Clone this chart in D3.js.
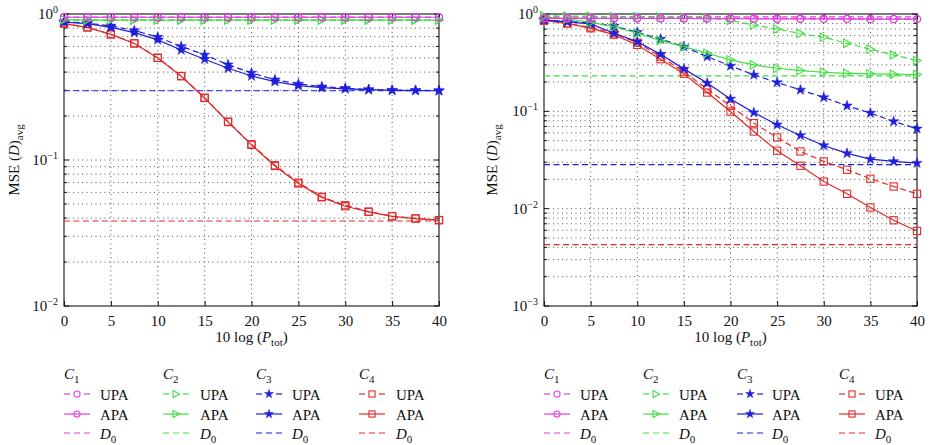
<!DOCTYPE html>
<html><head><meta charset="utf-8">
<script src="https://cdn.jsdelivr.net/npm/d3@7"></script>
<style>
body{margin:0;background:#fff}
svg{display:block}
svg text{font-family:"Liberation Serif","Times New Roman",serif !important}
</style>
</head><body><svg id="chart" width="931" height="445"></svg>
<script>
// ---------- DATA ----------
const xValues = [0,2.5,5,7.5,10,12.5,15,17.5,20,22.5,25,27.5,30,32.5,35,37.5,40];
const xTicks = [0,5,10,15,20,25,30,35,40];
const classNames = ["1","2","3","4"];
const seriesNames = ["UPA","APA"];

// Left panel
const leftC1UPA = [0.95,0.95,0.95,0.95,0.95,0.95,0.95,0.95,0.95,0.95,0.95,0.95,0.95,0.95,0.95,0.95,0.95];
const leftC1APA = [0.95,0.95,0.95,0.95,0.95,0.95,0.95,0.95,0.95,0.95,0.95,0.95,0.95,0.95,0.95,0.95,0.95];
const leftC2UPA = [0.915,0.91,0.91,0.91,0.91,0.91,0.91,0.91,0.91,0.91,0.91,0.91,0.91,0.91,0.91,0.91,0.91];
const leftC2APA = [0.915,0.91,0.91,0.91,0.91,0.91,0.91,0.91,0.91,0.91,0.91,0.91,0.91,0.91,0.91,0.91,0.91];
const leftC3UPA = [0.885,0.865,0.83,0.77,0.695,0.6,0.525,0.45,0.395,0.355,0.332,0.318,0.31,0.304,0.301,0.30,0.299];
const leftC3APA = [0.88,0.86,0.81,0.745,0.665,0.567,0.49,0.425,0.376,0.344,0.323,0.313,0.307,0.303,0.30,0.299,0.298];
const leftC4UPA = [0.86,0.81,0.725,0.63,0.502,0.376,0.267,0.183,0.128,0.092,0.07,0.056,0.049,0.0443,0.0413,0.0398,0.0388];
const leftC4APA = [0.86,0.81,0.725,0.628,0.5,0.375,0.266,0.182,0.127,0.091,0.069,0.0555,0.0482,0.0441,0.0411,0.0397,0.0387];
const leftD0 = [0.95,0.91,0.298,0.0382];

// Right panel
const rightC1UPA = [0.91,0.91,0.91,0.91,0.91,0.905,0.905,0.9,0.9,0.9,0.895,0.895,0.89,0.89,0.89,0.885,0.885];
const rightC1APA = [0.9,0.9,0.9,0.9,0.9,0.9,0.9,0.895,0.895,0.89,0.89,0.89,0.89,0.885,0.885,0.885,0.885];
const rightC2UPA = [0.96,0.95,0.95,0.94,0.94,0.935,0.93,0.915,0.86,0.77,0.70,0.63,0.577,0.50,0.435,0.38,0.332];
const rightC2APA = [0.93,0.89,0.82,0.74,0.634,0.533,0.462,0.395,0.338,0.30,0.277,0.262,0.252,0.246,0.243,0.241,0.239];
const rightC3UPA = [0.868,0.834,0.815,0.753,0.649,0.554,0.462,0.365,0.293,0.237,0.198,0.166,0.139,0.114,0.096,0.0787,0.0662];
const rightC3APA = [0.868,0.83,0.79,0.634,0.52,0.386,0.273,0.195,0.134,0.097,0.0728,0.0565,0.0446,0.037,0.0323,0.0306,0.0294];
const rightC4UPA = [0.86,0.80,0.73,0.634,0.508,0.365,0.256,0.169,0.114,0.0757,0.0539,0.0387,0.0306,0.0251,0.0203,0.0169,0.0142];
const rightC4APA = [0.86,0.80,0.713,0.613,0.481,0.343,0.243,0.156,0.0995,0.062,0.0394,0.0276,0.019,0.0142,0.0103,0.0076,0.0059];
const rightD0 = [0.935,0.231,0.0283,0.00427];

// ---------- STYLE / LAYOUT ----------
const colors = ["#e23ee2","#3fe03f","#1f1fdc","#e22a2a"];
const markerTypes = ["circle","triangle","star","square"];

const panels = [
  {x0:64, x1:439, top:14, bottom:306, yMin:1e-2, ylabX:14,
   upa:[leftC1UPA,leftC2UPA,leftC3UPA,leftC4UPA], apa:[leftC1APA,leftC2APA,leftC3APA,leftC4APA], d0:leftD0,
   legX:[64,163,256,359], legTextX:[100,200,292,396]},
  {x0:544, x1:917, top:14, bottom:306, yMin:1e-3, ylabX:492,
   upa:[rightC1UPA,rightC2UPA,rightC3UPA,rightC4UPA], apa:[rightC1APA,rightC2APA,rightC3APA,rightC4APA], d0:rightD0,
   legX:[544,643,737,839], legTextX:[580,679,772,875]}
];

const svg = d3.select("#chart");

function drawMarker(g, type, cx, cy, color, scale) {
  const s = scale || 1;
  if (type === "circle") {
    g.append("circle").attr("cx",cx).attr("cy",cy).attr("r",3.6*s)
      .attr("fill","none").attr("stroke",color).attr("stroke-width",1.1);
  } else if (type === "square") {
    g.append("rect").attr("x",cx-3.6*s).attr("y",cy-3.6*s).attr("width",7.2*s).attr("height",7.2*s)
      .attr("fill","none").attr("stroke",color).attr("stroke-width",1.1);
  } else if (type === "triangle") {
    g.append("path").attr("d",`M${cx-3.5*s},${cy-4.2*s}L${cx+4.2*s},${cy}L${cx-3.5*s},${cy+4.2*s}Z`)
      .attr("fill","none").attr("stroke",color).attr("stroke-width",1.1);
  } else if (type === "star") {
    g.append("path").attr("d", d3.symbol(d3.symbolStar, 34*s*s)())
      .attr("transform",`translate(${cx},${cy})`).attr("fill",color).attr("stroke",color).attr("stroke-width",0.5);
  }
}

function sup10(sel, exp) {
  sel.append("tspan").text("10");
  sel.append("tspan").attr("dy",-6).attr("font-size",10).text(exp === 0 ? "0" : "\u2212" + (-exp));
}

panels.forEach(p => {
  const x = d3.scaleLinear().domain([0,40]).range([p.x0,p.x1]);
  const y = d3.scaleLog().domain([p.yMin,1]).range([p.bottom,p.top]);
  const g = svg.append("g");

  // grid
  const minorVals = [];
  const dMin = Math.round(Math.log10(p.yMin));
  for (let d = dMin; d < 0; d++) for (let k = 1; k <= 9; k++) minorVals.push(k*Math.pow(10,d));
  g.append("g").selectAll("line").data(minorVals.filter(v=>v>p.yMin)).join("line")
    .attr("x1",p.x0).attr("x2",p.x1).attr("y1",d=>y(d)).attr("y2",d=>y(d))
    .attr("stroke","#444").attr("stroke-width",0.9).attr("stroke-dasharray","1,3.5");
  g.append("g").selectAll("line").data(xTicks.slice(1,-1)).join("line")
    .attr("x1",d=>x(d)).attr("x2",d=>x(d)).attr("y1",p.top).attr("y2",p.bottom)
    .attr("stroke","#444").attr("stroke-width",0.9).attr("stroke-dasharray","1,3.5");

  // axes (inward ticks, box)
  const bottomAx = d3.axisBottom(x).tickValues(xTicks).tickSize(-5).tickPadding(9).tickFormat(d3.format("d"));
  const ga = g.append("g").attr("transform",`translate(0,${p.bottom})`).call(bottomAx);
  ga.select(".domain").remove();
  ga.selectAll("text").attr("font-size",15).attr("fill","#111");
  ga.selectAll("line").attr("stroke","#111");
  const topAx = d3.axisTop(x).tickValues(xTicks).tickSize(-5).tickFormat("");
  const gt = g.append("g").attr("transform",`translate(0,${p.top})`).call(topAx);
  gt.select(".domain").remove(); gt.selectAll("line").attr("stroke","#111");

  const decades = [];
  for (let d = dMin; d <= 0; d++) decades.push(Math.pow(10,d));
  const minorTicks = minorVals.filter(v => !decades.some(dd => Math.abs(dd-v)/v < 1e-9));
  [[p.x0,1],[p.x1,-1]].forEach(([xx,dir]) => {
    g.append("g").selectAll("line").data(decades).join("line")
      .attr("x1",xx).attr("x2",xx+dir*5).attr("y1",d=>y(d)).attr("y2",d=>y(d)).attr("stroke","#111");
    g.append("g").selectAll("line").data(minorTicks).join("line")
      .attr("x1",xx).attr("x2",xx+dir*3).attr("y1",d=>y(d)).attr("y2",d=>y(d)).attr("stroke","#111");
  });
  decades.forEach(dv => {
    const t = g.append("text").attr("x",p.x0-6).attr("y",y(dv)+5).attr("text-anchor","end")
      .attr("font-size",15).attr("fill","#111");
    sup10(t, Math.round(Math.log10(dv)));
  });

  g.append("rect").attr("x",p.x0).attr("y",p.top).attr("width",p.x1-p.x0).attr("height",p.bottom-p.top)
    .attr("fill","none").attr("stroke","#111").attr("stroke-width",1.1);

  // D0 lines
  p.d0.forEach((v,i) => {
    g.append("line").attr("x1",p.x0).attr("x2",p.x1).attr("y1",y(v)).attr("y2",y(v))
      .attr("stroke",colors[i]).attr("stroke-width",1.2).attr("stroke-dasharray","6,3.5");
  });

  // curves
  const line = d3.line().x((d,i)=>x(xValues[i])).y(d=>y(d));
  [3,2,1,0].forEach(i => {
    [[p.upa[i],"6,3.5"],[p.apa[i],null]].forEach(([vals,dash]) => {
      const path = g.append("path").datum(vals).attr("d",line).attr("fill","none")
        .attr("stroke",colors[i]).attr("stroke-width",1.2);
      if (dash) path.attr("stroke-dasharray",dash);
      vals.forEach((v,k) => drawMarker(g, markerTypes[i], x(xValues[k]), y(v), colors[i]));
    });
  });

  // axis labels
  const xl = g.append("text").attr("x",(p.x0+p.x1)/2).attr("y",342).attr("text-anchor","middle")
    .attr("font-size",15).attr("fill","#111");
  xl.append("tspan").text("10 log (");
  xl.append("tspan").attr("font-style","italic").text("P");
  xl.append("tspan").attr("dy",4).attr("font-size",11).text("tot");
  xl.append("tspan").attr("dy",-4).text(")");

  const yl = g.append("text").attr("transform",`translate(${p.ylabX+5},${(p.top+p.bottom)/2}) rotate(-90)`)
    .attr("text-anchor","middle").attr("font-size",15).attr("fill","#111");
  yl.append("tspan").text("MSE (");
  yl.append("tspan").attr("font-style","italic").text("D");
  yl.append("tspan").text(")");
  yl.append("tspan").attr("dy",4).attr("font-size",11).text("avg");

  // legend
  classNames.forEach((cn,i) => {
    const lx = p.legX[i], tx = p.legTextX[i];
    const ct = g.append("text").attr("x",lx).attr("y",379).attr("font-size",15).attr("fill","#111");
    ct.append("tspan").attr("font-style","italic").text("C");
    ct.append("tspan").attr("dy",4).attr("font-size",11).text(cn);
    const rows = [{y:394, kind:"upa", label:"UPA"},
                  {y:414, kind:"apa", label:"APA"},
                  {y:433, kind:"d0", label:"D0"}];
    rows.forEach(r => {
      if (r.kind === "upa") {
        [[lx,lx+6],[lx+20,lx+26]].forEach(([a,b]) =>
          g.append("line").attr("x1",a).attr("x2",b).attr("y1",r.y).attr("y2",r.y)
            .attr("stroke",colors[i]).attr("stroke-width",1.2));
        drawMarker(g, markerTypes[i], lx+13, r.y, colors[i], 0.85);
      } else if (r.kind === "apa") {
        g.append("line").attr("x1",lx).attr("x2",lx+26).attr("y1",r.y).attr("y2",r.y)
          .attr("stroke",colors[i]).attr("stroke-width",1.2);
        drawMarker(g, markerTypes[i], lx+13, r.y, colors[i], 0.85);
      } else {
        g.append("line").attr("x1",lx).attr("x2",lx+26).attr("y1",r.y).attr("y2",r.y)
          .attr("stroke",colors[i]).attr("stroke-width",1.2).attr("stroke-dasharray","6,4");
      }
      const t = g.append("text").attr("x",tx).attr("y",r.y+6).attr("font-size",15).attr("fill","#111");
      if (r.label === "D0") {
        t.append("tspan").attr("font-style","italic").text("D");
        t.append("tspan").attr("dy",4).attr("font-size",11).text("0");
      } else t.text(r.label);
    });
  });
});
</script>
</body></html>
